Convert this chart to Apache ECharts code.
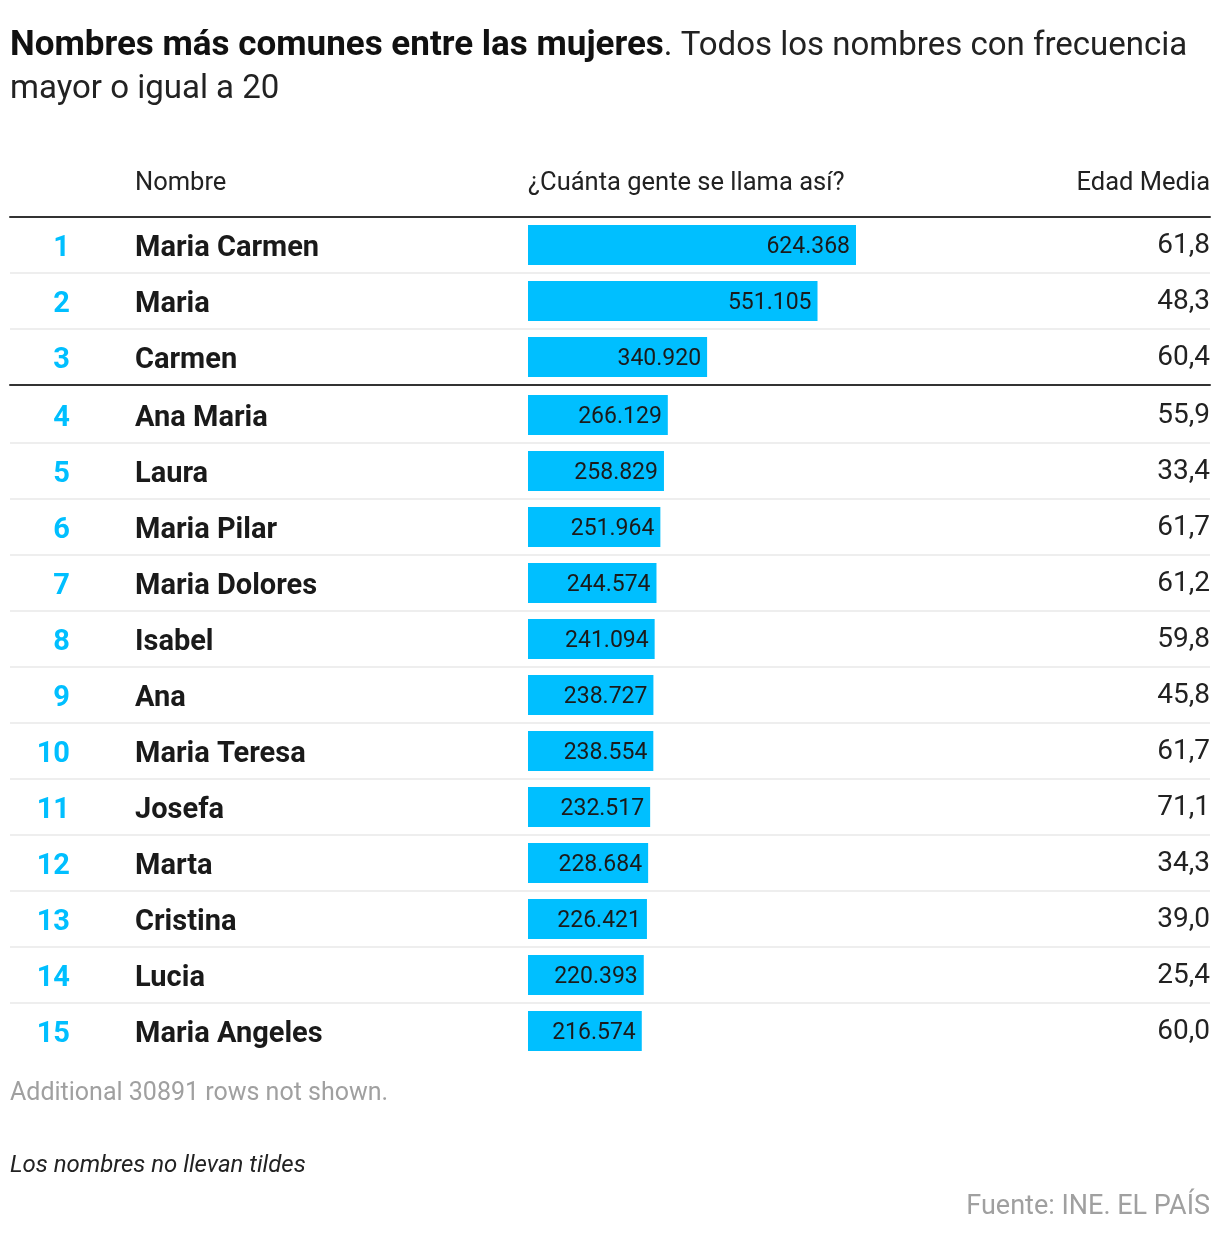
<!DOCTYPE html>
<html><head><meta charset="utf-8">
<script src="https://cdn.jsdelivr.net/npm/echarts@6/dist/echarts.min.js"></script>
<style>html,body{margin:0;padding:0;background:#fff}#c{width:1220px;height:1234px}</style>
</head><body><div id="c"></div>
<script>
const ranks = ['1','2','3','4','5','6','7','8','9','10','11','12','13','14','15'];
const names = ['Maria Carmen','Maria','Carmen','Ana Maria','Laura','Maria Pilar','Maria Dolores','Isabel','Ana','Maria Teresa','Josefa','Marta','Cristina','Lucia','Maria Angeles'];
const counts = [624368,551105,340920,266129,258829,251964,244574,241094,238727,238554,232517,228684,226421,220393,216574];
const ages = [61.8,48.3,60.4,55.9,33.4,61.7,61.2,59.8,45.8,61.7,71.1,34.3,39.0,25.4,60.0];
const headers = ['Nombre','¿Cuánta gente se llama así?','Edad Media'];
const topCount = 3;

const FONT = 'Roboto';
const fmtCount = v => String(v).replace(/\B(?=(\d{3})+(?!\d))/g, '.');
const fmtAge = v => v.toFixed(1).replace('.', ',');
const maxCount = Math.max(...counts);

const sections = [
  {from: 0, to: topCount, top: 217},
  {from: topCount, to: ranks.length, top: 387}
];
const ROW = 56;

function richLabel(style, shift) {
  return {
    formatter: v => '{a|' + v + '}',
    rich: {a: Object.assign({padding: [shift * 2, 0, 0, 0]}, style)}
  };
}

const grid = [], xAxis = [], yAxis = [], series = [];
sections.forEach((s, si) => {
  const n = s.to - s.from;
  const h = n * ROW;
  const gFull = grid.length;
  grid.push({left: 10, right: 10, top: s.top, height: h});
  const gBar = grid.length;
  grid.push({left: 528, width: 328, top: s.top, height: h});

  const hidden = {show: false};
  if (si === 0) {
    xAxis.push({gridIndex: gFull, type: 'value', position: 'top', min: 0, max: 1,
      axisLine: {show: true, onZero: false, lineStyle: {color: '#333', width: 2}},
      axisTick: hidden, axisLabel: hidden, splitLine: hidden});
    xAxis.push({gridIndex: gFull, type: 'value', position: 'bottom', min: 0, max: 1,
      axisLine: {show: true, onZero: false, lineStyle: {color: '#333', width: 2}},
      axisTick: hidden, axisLabel: hidden, splitLine: hidden});
  } else {
    xAxis.push({gridIndex: gFull, type: 'value', min: 0, max: 1, show: false});
  }
  yAxis.push({gridIndex: gFull, type: 'category', inverse: true,
    data: ranks.slice(s.from, s.to),
    axisLine: hidden, axisTick: hidden, axisLabel: hidden,
    splitLine: {show: true, showMinLine: false, showMaxLine: false, lineStyle: {color: '#eeeeee', width: 2}}});

  const xBar = xAxis.length;
  xAxis.push({gridIndex: gBar, type: 'value', min: 0, max: maxCount, show: false});

  const common = {gridIndex: gBar, type: 'category', inverse: true,
    axisLine: hidden, axisTick: hidden, splitLine: hidden};
  yAxis.push(Object.assign({}, common, {position: 'left',
    data: ranks.slice(s.from, s.to),
    axisLabel: Object.assign({margin: 458, align: 'right'},
      richLabel({color: '#00bfff', fontFamily: FONT, fontWeight: 'bold', fontSize: 29}, 4))}));
  const yName = yAxis.length;
  yAxis.push(Object.assign({}, common, {position: 'left',
    data: names.slice(s.from, s.to),
    axisLabel: Object.assign({margin: 393, align: 'left'},
      richLabel({color: '#1a1a1a', fontFamily: FONT, fontWeight: 'bold', fontSize: 29}, 4))}));
  yAxis.push(Object.assign({}, common, {position: 'right',
    data: ages.slice(s.from, s.to).map(fmtAge),
    axisLabel: Object.assign({margin: 354, align: 'right'},
      richLabel({color: '#222', fontFamily: FONT, fontWeight: 'normal', fontSize: 28}, 1))}));

  series.push({type: 'bar', xAxisIndex: xBar, yAxisIndex: yName,
    data: counts.slice(s.from, s.to), barWidth: 40,
    itemStyle: {color: '#00bfff'}, silent: true,
    label: {show: true, position: 'insideRight', distance: 6, offset: [0, 2], formatter: p => fmtCount(p.value),
      color: '#1a1a1a', fontFamily: FONT, fontSize: 23}});
});

const txt = (size, color, extra) => Object.assign({fontFamily: FONT, fontWeight: 'normal', fontSize: size, color: color}, extra || {});

const chart = echarts.init(document.getElementById('c'), null, {renderer: 'canvas'});
chart.setOption({
  animation: false,
  backgroundColor: '#fff',
  title: [
    {left: 10, top: 25, padding: 0,
     text: '{b|Nombres más comunes entre las mujeres}{r|. Todos los nombres con frecuencia}\n{r|mayor o igual a 20}',
     textStyle: {rich: {
       b: {fontFamily: FONT, fontWeight: 'bold', fontSize: 35, color: '#111', lineHeight: 43},
       r: {fontFamily: FONT, fontWeight: 'normal', fontSize: 33, color: '#222', lineHeight: 43}}}},
    {left: 135, top: 171, padding: 0, text: headers[0], textStyle: txt(25.5, '#222')},
    {left: 528, top: 171, padding: 0, text: headers[1], textStyle: txt(25.5, '#222')},
    {right: 10, top: 171, padding: 0, text: headers[2], textStyle: txt(25.5, '#222')},
    {left: 10, top: 1081, padding: 0, text: 'Additional 30891 rows not shown.', textStyle: txt(25, '#a0a0a0')},
    {left: 10, top: 1154, padding: 0, text: 'Los nombres no llevan tildes', textStyle: txt(24, '#222', {fontStyle: 'italic'})},
    {right: 10, top: 1194, padding: 0, text: 'Fuente: INE. EL PAÍS', textStyle: txt(27, '#a0a0a0')}
  ],
  grid, xAxis, yAxis, series
});
</script></body></html>
